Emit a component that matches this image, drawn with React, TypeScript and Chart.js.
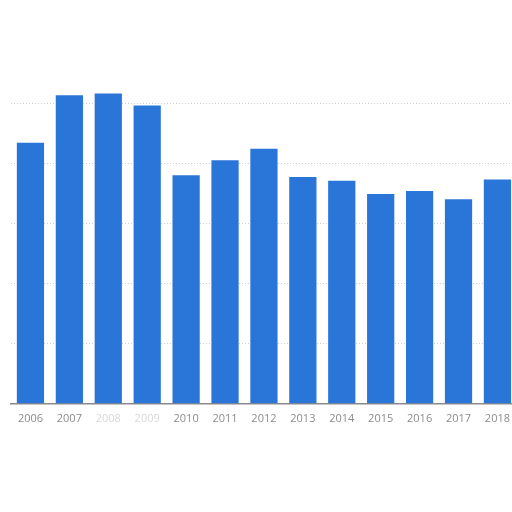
import React, { useEffect, useRef } from 'react';
import { Chart, registerables, ChartConfiguration } from 'chart.js';

Chart.register(...registerables);

const years = ['2006', '2007', '2008', '2009', '2010', '2011', '2012', '2013', '2014', '2015', '2016', '2017', '2018'];
const values = [43.4, 51.3, 51.6, 49.6, 38.0, 40.5, 42.4, 37.7, 37.1, 34.9, 35.4, 34.0, 37.3];
const fadedYears = ['2008', '2009'];

const App: React.FC = () => {
  const chartRef = useRef<HTMLCanvasElement | null>(null);
  const chartInstance = useRef<Chart | null>(null);

  useEffect(() => {
    if (!chartRef.current) return;

    const config: ChartConfiguration = {
      type: 'bar',
      data: {
        labels: years,
        datasets: [{
          data: values,
          backgroundColor: '#2a75d8',
          borderWidth: 0,
          categoryPercentage: 1,
          barPercentage: 0.7,
        }]
      },
      options: {
        responsive: true,
        maintainAspectRatio: false,
        animation: false,
        layout: { padding: { left: 11, right: 0, top: 73, bottom: 79 } },
        plugins: {
          legend: { display: false },
          tooltip: { enabled: false },
        },
        scales: {
          x: {
            grid: { display: false, drawTicks: false },
            border: { display: true, color: '#8a8a8a', width: 1.5 },
            ticks: {
              padding: 8,
              maxRotation: 0,
              autoSkip: false,
              color: (ctx: any) => fadedYears.includes(years[ctx.index]) ? '#d8d8d8' : '#8c8c8c',
              font: { family: 'Open Sans', size: 11 },
            },
          },
          y: {
            display: true,
            min: 0,
            max: 55,
            border: { display: false, dash: [1, 2] },
            ticks: { display: false, stepSize: 10 },
            grid: {
              drawTicks: false,
              color: (ctx: any) => ctx.tick && ctx.tick.value > 0 && ctx.tick.value % 10 === 0 ? '#d0d0d0' : 'transparent',
            },
          },
        },
      } as any,
    };

    if (chartInstance.current) {
      chartInstance.current.destroy();
    }
    chartInstance.current = new Chart(chartRef.current, config);

    return () => chartInstance.current?.destroy();
  }, []);

  return (
    <div style={{ position: 'fixed', left: 0, top: 0, width: 512, height: 512, overflow: 'hidden', background: '#fff' }}>
      <div style={{ position: 'relative', width: 518, height: 512 }}>
        <canvas ref={chartRef} />
      </div>
    </div>
  );
};

export default App;
